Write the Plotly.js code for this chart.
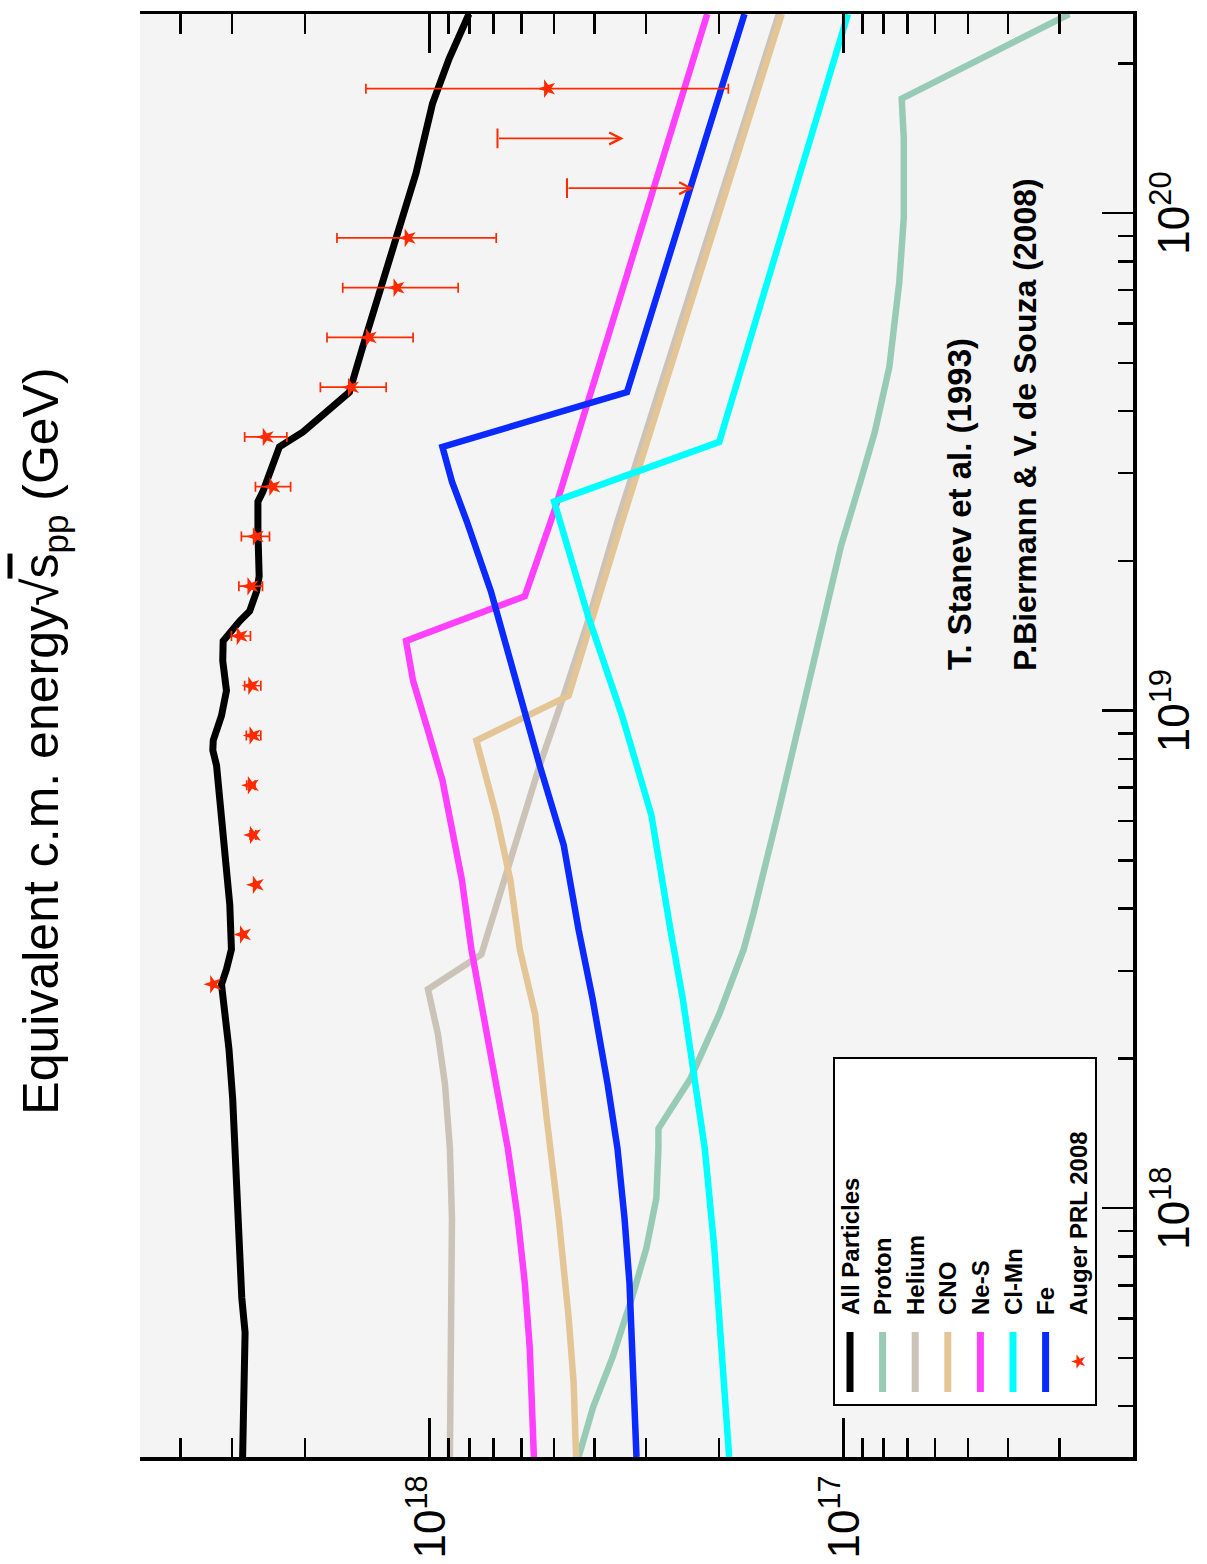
<!DOCTYPE html>
<html>
<head>
<meta charset="utf-8">
<script src="https://cdn.plot.ly/plotly-3.0.1.min.js"></script>
<style>
  html, body { margin: 0; padding: 0; overflow: hidden; background: #ffffff; width: 1207px; height: 1564px; }
  /* the figure is laid out landscape and turned a quarter turn counter-clockwise */
  #chart { position: absolute; left: 0; top: 0; width: 1564px; height: 1207px;
           transform-origin: 0 0; transform: translate(0, 1564px) rotate(-90deg); }
</style>
</head>
<body>
<div id="chart"></div>
<script>
// Primary energy (log10 E / eV) and flux (log10) for each mass group
const allLogE = [17.50, 17.62, 17.75, 17.82, 17.92, 18.02, 18.12, 18.22, 18.32, 18.38, 18.43, 18.45, 18.48, 18.52, 18.61, 18.68, 18.77, 18.83, 18.89, 18.92, 18.94, 18.99, 19.04, 19.10, 19.14, 19.18, 19.20, 19.24, 19.27, 19.36, 19.42, 19.44, 19.53, 19.56, 19.60, 19.64, 19.73, 19.84, 19.95, 20.08, 20.22, 20.31, 20.40];
const allLogF = [18.452, 18.450, 18.446, 18.454, 18.459, 18.464, 18.471, 18.476, 18.485, 18.495, 18.503, 18.503, 18.491, 18.479, 18.483, 18.491, 18.499, 18.507, 18.515, 18.524, 18.523, 18.503, 18.491, 18.500, 18.499, 18.459, 18.435, 18.418, 18.412, 18.415, 18.415, 18.403, 18.363, 18.306, 18.250, 18.194, 18.162, 18.121, 18.081, 18.033, 17.993, 17.953, 17.905];

const protonLogE = [17.50, 17.60, 17.70, 17.82, 17.92, 18.02, 18.12, 18.16, 18.26, 18.39, 18.52, 18.59, 18.79, 18.96, 19.13, 19.33, 19.46, 19.56, 19.69, 19.86, 19.99, 20.15, 20.23, 20.40];
const protonLogF = [17.640, 17.605, 17.558, 17.511, 17.476, 17.452, 17.447, 17.447, 17.370, 17.300, 17.241, 17.218, 17.159, 17.112, 17.065, 17.006, 16.959, 16.924, 16.889, 16.865, 16.854, 16.854, 16.859, 16.454];

const heliumLogE = [17.50, 17.72, 17.85, 17.98, 18.12, 18.25, 18.35, 18.44, 18.51, 18.73, 18.89, 19.03, 19.18, 19.38, 20.40];
const heliumLogF = [17.951, 17.948, 17.946, 17.946, 17.951, 17.963, 17.980, 18.004, 17.875, 17.793, 17.734, 17.676, 17.617, 17.546, 17.156];

const cnoLogE = [17.50, 17.65, 17.78, 17.98, 18.18, 18.39, 18.52, 18.66, 18.79, 18.94, 19.03, 19.38, 20.40];
const cnoLogF = [17.646, 17.652, 17.664, 17.688, 17.717, 17.745, 17.782, 17.805, 17.839, 17.887, 17.664, 17.535, 17.149];

const nesLogE = [17.50, 17.72, 17.85, 17.98, 18.12, 18.25, 18.39, 18.52, 18.66, 18.76, 18.86, 18.96, 19.06, 19.14, 19.23, 19.40, 20.40];
const nesLogF = [17.748, 17.758, 17.770, 17.787, 17.811, 17.840, 17.869, 17.899, 17.922, 17.946, 17.969, 18.004, 18.040, 18.057, 17.770, 17.699, 17.329];

const clmnLogE = [17.50, 17.72, 17.92, 18.12, 18.32, 18.42, 18.56, 18.79, 18.99, 19.19, 19.42, 19.54, 20.40];
const clmnLogF = [17.276, 17.294, 17.312, 17.335, 17.370, 17.388, 17.418, 17.464, 17.535, 17.617, 17.699, 17.300, 16.989];

const feLogE = [17.50, 17.72, 17.85, 17.98, 18.12, 18.25, 18.42, 18.56, 18.73, 18.89, 19.06, 19.24, 19.38, 19.46, 19.53, 19.64, 20.05, 20.40];
const feLogF = [17.500, 17.509, 17.517, 17.529, 17.546, 17.570, 17.606, 17.640, 17.676, 17.734, 17.793, 17.852, 17.910, 17.946, 17.969, 17.523, 17.370, 17.239];

// Auger PRL 2008 spectrum points (log10), with upper / lower ends of the error bars
const augerLogE  = [18.45, 18.55, 18.65, 18.75, 18.85, 18.95, 19.05, 19.15, 19.25, 19.35, 19.45, 19.55, 19.65, 19.75, 19.85, 19.95, 20.25];
const augerLogF  = [18.523, 18.451, 18.420, 18.427, 18.432, 18.428, 18.431, 18.459, 18.433, 18.420, 18.380, 18.396, 18.190, 18.147, 18.080, 18.053, 17.716];
const augerLogHi = [null, null, null, 18.434, 18.442, 18.443, 18.447, 18.479, 18.461, 18.455, 18.421, 18.447, 18.264, 18.248, 18.210, 18.224, 18.154];
const augerLogLo = [null, null, null, 18.420, 18.422, 18.408, 18.408, 18.433, 18.404, 18.387, 18.336, 18.345, 18.105, 18.040, 17.931, 17.839, 17.278];

// Auger upper limits: bar top and arrow tip
const limitLogE      = [20.05, 20.15];
const limitLogF      = [17.668, 17.836];
const limitArrowLogF = [17.362, 17.531];

// Axis extents (log10) and tick labels
const energyRange = [17.5, 20.4];
const fluxRange   = [16.3, 18.7];
const energyTicks = [1e18, 1e19, 1e20];
const energyTickText = ['10<sup>18</sup>', '10<sup>19</sup>', '10<sup>20</sup>'];
const fluxTicks = [1e17, 1e18];
const fluxTickText = ['10<sup>17</sup>', '10<sup>18</sup>'];
const sqrtsTicks = [1e5];
const sqrtsTickText = ['10<sup>5</sup>'];

const seriesNames = ['All Particles', 'Proton', 'Helium', 'CNO', 'Ne-S', 'Cl-Mn', 'Fe'];
const seriesColors = ['#000000', '#98cbb6', '#cbc2b8', '#e4c596', '#ff40ff', '#00ffff', '#0a2aff'];
const seriesE = [allLogE, protonLogE, heliumLogE, cnoLogE, nesLogE, clmnLogE, feLogE];
const seriesF = [allLogF, protonLogF, heliumLogF, cnoLogF, nesLogF, clmnLogF, feLogF];

const M_PROTON = 0.938; // GeV
const pow10 = v => Math.pow(10, v);
const toSqrtsLog = lgE => (lgE - 9 + Math.log10(2 * M_PROTON)) / 2;

function minorTicks(lo, hi) {
  const out = [];
  for (let d = Math.floor(lo) - 1; d <= Math.ceil(hi); d++) {
    for (let m = 2; m <= 9; m++) {
      const v = m * Math.pow(10, d);
      const lv = Math.log10(v);
      if (lv > lo && lv < hi) out.push(v);
    }
  }
  return out;
}

const FONT = 'Liberation Sans, Arial, Helvetica, sans-serif';
const RED = '#ff2a00';

const traces = [];
seriesE.forEach((es, i) => {
  traces.push({
    type: 'scatter', mode: 'lines', name: seriesNames[i],
    x: es.map(pow10), y: seriesF[i].map(pow10),
    line: { color: seriesColors[i], width: i === 0 ? 7 : 6.5 },
    showlegend: false, hoverinfo: 'skip'
  });
});

traces.push({
  type: 'scatter', mode: 'markers', name: 'Auger PRL 2008',
  x: augerLogE.map(pow10), y: augerLogF.map(pow10),
  marker: { symbol: 'star', size: 14, color: RED },
  error_y: {
    type: 'data', symmetric: false,
    array: augerLogF.map((v, i) => augerLogHi[i] == null ? NaN : pow10(augerLogHi[i]) - pow10(v)),
    arrayminus: augerLogF.map((v, i) => augerLogLo[i] == null ? NaN : pow10(v) - pow10(augerLogLo[i])),
    color: RED, thickness: 1.7, width: 5
  },
  showlegend: false, hoverinfo: 'skip'
});

traces.push({
  type: 'scatter', mode: 'markers', name: 'Auger upper limits',
  x: limitLogE.map(pow10), y: limitLogF.map(pow10),
  marker: { symbol: 'line-ew', size: 14, line: { color: RED, width: 2 } },
  showlegend: false, hoverinfo: 'skip'
});

// plot-area geometry in layout pixels, used for the drawn key and text labels
const W = 1564, H = 1207;
const M = { l: 107, r: 14, t: 140, b: 74 };
const PW = W - M.l - M.r, PH = H - M.t - M.b;
const px = x => (x - M.l) / PW;
const py = y => (H - M.b - y) / PH;

const shapes = [];
const annotations = [];

limitLogE.forEach((e, i) => {
  annotations.push({
    xref: 'x', yref: 'y', axref: 'x', ayref: 'y',
    x: e, y: limitArrowLogF[i], ax: e, ay: limitLogF[i],
    text: '', showarrow: true, arrowhead: 5, arrowsize: 1.3, arrowwidth: 1.8, arrowcolor: RED
  });
});

// key box
const key = { x0: 159, x1: 506, y0: 834, y1: 1096, row0: 850, rowStep: 32.6, lx0: 172, lx1: 232, tx: 247 };
shapes.push({ type: 'rect', xref: 'paper', yref: 'paper',
  x0: px(key.x0), x1: px(key.x1), y0: py(key.y1), y1: py(key.y0),
  fillcolor: '#ffffff', line: { color: '#000000', width: 2 }, layer: 'above' });
const keyLabels = seriesNames.concat(['Auger PRL 2008']);
keyLabels.forEach((name, i) => {
  const ry = key.row0 + i * key.rowStep;
  if (i < seriesNames.length) {
    shapes.push({ type: 'line', xref: 'paper', yref: 'paper',
      x0: px(key.lx0), x1: px(key.lx1), y0: py(ry), y1: py(ry),
      line: { color: seriesColors[i], width: 7 }, layer: 'above' });
  } else {
    annotations.push({ xref: 'paper', yref: 'paper', x: px((key.lx0 + key.lx1) / 2), y: py(ry),
      xanchor: 'center', yanchor: 'middle', showarrow: false, text: '★',
      font: { family: 'DejaVu Sans, sans-serif', size: 19, color: RED } });
  }
  annotations.push({ xref: 'paper', yref: 'paper', x: px(key.tx), y: py(ry),
    xanchor: 'left', yanchor: 'middle', showarrow: false, text: name,
    font: { family: FONT, size: 24, color: '#000000', weight: 700 } });
});

annotations.push({ xref: 'paper', yref: 'paper', x: px(892), y: py(959), xanchor: 'left', yanchor: 'middle',
  showarrow: false, text: 'T. Stanev et al. (1993)', font: { family: FONT, size: 33, color: '#000000', weight: 700 } });
annotations.push({ xref: 'paper', yref: 'paper', x: px(891), y: py(1025), xanchor: 'left', yanchor: 'middle',
  showarrow: false, text: 'P.Biermann &amp; V. de Souza (2008)', font: { family: FONT, size: 32, color: '#000000', weight: 700 } });

const axisCommon = {
  type: 'log', showgrid: false, zeroline: false, showline: true,
  linecolor: '#000000', linewidth: 3.5, ticks: 'inside', tickcolor: '#000000', tickwidth: 2.5,
  tickmode: 'array', tickfont: { family: FONT, size: 44, color: '#000000' }
};

const layout = {
  width: W, height: H, margin: M,
  paper_bgcolor: '#ffffff', plot_bgcolor: '#f4f4f4',
  showlegend: false,
  font: { family: FONT, color: '#000000' },
  title: {
    text: 'Equivalent c.m. energy√<span style="text-decoration:overline">s</span><sub>pp</sub> (GeV)',
    font: { family: FONT, size: 50, color: '#000000' },
    xref: 'container', yref: 'container', x: 823 / W, y: 1 - 40 / H, xanchor: 'center', yanchor: 'middle'
  },
  xaxis: Object.assign({}, axisCommon, {
    range: energyRange, side: 'bottom', mirror: false, anchor: 'y',
    tickvals: energyTicks, ticktext: energyTickText, ticklen: 31, ticklabelstandoff: 0,
    minor: { tickmode: 'array', tickvals: minorTicks(energyRange[0], energyRange[1]), ticks: 'inside', ticklen: 15, tickwidth: 2.5, tickcolor: '#000000', showgrid: false }
  }),
  xaxis2: Object.assign({}, axisCommon, {
    overlaying: 'x', side: 'top', anchor: 'y',
    range: energyRange.map(toSqrtsLog),
    tickvals: sqrtsTicks, ticktext: sqrtsTickText, ticklen: 33, ticklabelstandoff: 6,
    minor: { tickmode: 'array', tickvals: minorTicks(toSqrtsLog(energyRange[0]), toSqrtsLog(energyRange[1])), ticks: 'inside', ticklen: 16, tickwidth: 2.5, tickcolor: '#000000', showgrid: false }
  }),
  yaxis: Object.assign({}, axisCommon, {
    range: fluxRange, mirror: 'ticks', anchor: 'x',
    tickvals: fluxTicks, ticktext: fluxTickText, ticklen: 39, ticklabelstandoff: 6,
    minor: { tickmode: 'array', tickvals: minorTicks(fluxRange[0], fluxRange[1]), ticks: 'inside', ticklen: 19.5, tickwidth: 2.5, tickcolor: '#000000', showgrid: false }
  }),
  shapes: shapes,
  annotations: annotations
};

Plotly.newPlot('chart', traces, layout, { displayModeBar: false, staticPlot: true });
</script>
</body>
</html>
